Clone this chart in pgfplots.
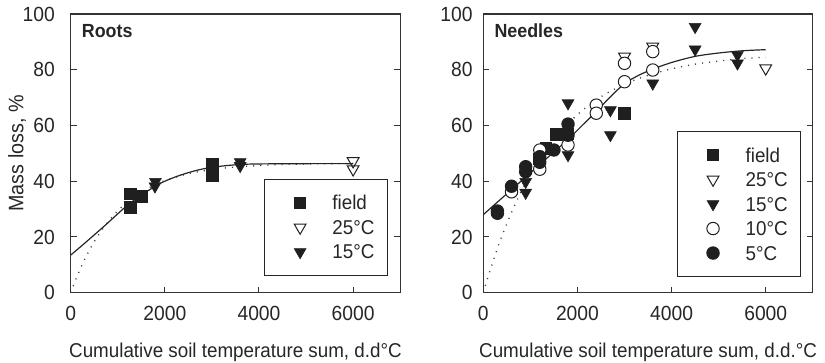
\documentclass[border=0pt]{standalone}
\usepackage{pgfplots}
\pgfplotsset{compat=1.18}
\usepackage{fontspec}
\setmainfont{Liberation Sans}[FakeStretch=0.94]
\pgfplotsset{
  panel/.style={
    scale only axis, width=329.5pt, height=278.7pt,
    xmin=0, xmax=7000, ymin=0, ymax=100,
    xtick={0,2000,4000,6000}, ytick={0,20,40,60,80,100},
    xtick pos=bottom, ytick pos=both, tick align=inside,
    major tick length=6pt,
    axis line style={line width=1.3pt, black!80},
    every tick/.style={line width=1pt, black!80},
    scaled x ticks=false,
    /pgf/number format/assume math mode=true,
    /pgf/number format/1000 sep={},
    tick label style={font=\fontsize{20.5}{24}\selectfont, text=black!85},
    xticklabel style={inner sep=0pt, anchor=north, yshift=-13.5pt},
    xlabel style={at={(axis description cs:0.5,0)}, anchor=north, inner sep=0pt, yshift=-50.6pt, font=\fontsize{20}{24}\selectfont, text=black!85},
    legend style={draw=black!85, line width=1pt, fill=white, anchor=north west,
      inner xsep=13pt, inner ysep=16.5pt, row sep=10.5pt, column sep=26.4pt,
      font=\fontsize{20}{24}\selectfont, text=black!85,
      nodes={inner sep=0pt, text height=14pt, text depth=0pt}},
    legend cell align=left,
  },
  mm/.style={only marks, mark options={line width=1pt},
    legend image code/.code={\path (-22pt,0pt); \draw[##1] plot coordinates {(0pt,0pt)};}},
  fieldm/.style={mm, mark=square*, mark size=5.8pt, color=black!88},
  tf/.style={mm, mark=triangle, mark size=6.8pt, color=black!88, mark options={rotate=180, fill=white, line width=1pt}},
  tb/.style={mm, mark=triangle*, mark size=6.8pt, color=black!88, mark options={rotate=180, line width=0.6pt}},
  co/.style={mm, mark=*, mark size=6.2pt, color=black!88, mark options={fill=white, line width=1pt}},
  cb/.style={mm, mark=*, mark size=6.2pt, color=black!88},
  fit/.style={forget plot, no marks, smooth, line width=1.2pt, black!85},
  dfit/.style={forget plot, no marks, smooth, line width=1.3pt, black!75, dash pattern=on 1.1pt off 6pt},
}
\begin{document}
\begin{tikzpicture}
\path[use as bounding box] (0,0) rectangle (825pt,363pt);
% ---------------- Roots ----------------
\begin{axis}[panel, at={(70.7pt,70.3pt)}, anchor=south west,
  yticklabel style={inner sep=0pt, anchor=east, xshift=-15.7pt},
  xlabel={Cumulative soil temperature sum, d.d\textdegree C},
  ylabel={Mass loss, \%},
  ylabel style={at={(axis description cs:-0.1440,0.5)}, anchor=base, inner sep=0pt, font=\fontsize{21}{24}\selectfont, text=black!85},
  legend style={at={(0.587,0.408)}},
]
\addplot[dfit] coordinates {(0,0) (100,4.4) (200,8.4) (300,12.1) (400,15.3) (500,18.3) (600,21.0) (800,25.6) (1000,29.4) (1250,33.2) (1500,36.1) (1750,38.4) (2000,40.2) (2500,42.7) (3000,44.2) (3500,45.1) (4000,45.6) (4500,46.0) (5000,46.2) (5500,46.3) (6000,46.4)};
\addplot[fit] coordinates {(0,13.5) (300,17.8) (700,23.7) (1000,28.3) (1200,31.3) (1500,35.0) (1900,39.2) (2300,42.0) (2750,44.2) (3200,45.4) (3600,46.0) (4000,46.2) (5000,46.3) (6000,46.3)};
\addplot[fieldm] coordinates {(1274,35.4) (1274,30.6) (1507,34.6) (3015,46.0) (3015,41.9)};
\addlegendentry{field}
\addplot[tf] coordinates {(3000,43.4) (6000,47.2) (6000,44.3)};
\addlegendentry{25\textdegree C}
\addplot[tb] coordinates {(1800,39.8) (1790,38.2) (3600,46.9) (3600,45.5)};
\addlegendentry{15\textdegree C}
\node[anchor=north west, inner sep=0pt, font=\bfseries\fontsize{19}{22}\selectfont, text=black!85] at (rel axis cs:0.0335,0.964) {Roots};
\end{axis}
% ---------------- Needles ----------------
\begin{axis}[panel, at={(483.3pt,70.3pt)}, anchor=south west,
  yticklabel style={inner sep=0pt, anchor=east, xshift=-10.6pt},
  xlabel={Cumulative soil temperature sum, d.d.\textdegree C},
  legend style={at={(0.588,0.580)}},
]
\addplot[dfit] coordinates {(0,0) (100,5.7) (200,10.9) (300,15.9) (400,20.5) (600,28.8) (800,36.1) (1000,42.4) (1200,48.0) (1500,55.0) (2000,63.9) (2500,70.3) (3000,74.8) (3500,78.0) (4000,80.3) (4500,82.0) (5000,83.1) (5500,84.0) (6000,84.5)};
\addplot[fit] coordinates {(0,28.0) (300,32.5) (600,37.0) (900,41.5) (1200,46.0) (1500,50.5) (1800,55.0) (2100,60.0) (2400,65.0) (2700,70.3) (3000,75.0) (3300,78.0) (3600,80.2) (4000,82.6) (4500,84.8) (5000,86.0) (5500,86.8) (6000,87.2)};
\addplot[fieldm] coordinates {(1200,48.0) (1330,51.8) (1550,56.8) (1800,57.0) (3000,64.4)};
\addlegendentry{field}
\addplot[tf] coordinates {(3000,84.7) (3600,88.3) (6000,80.5)};
\addlegendentry{25\textdegree C}
\addplot[tb] coordinates {(900,39.8) (900,35.9) (1800,68.0) (1800,49.4) (2700,65.5) (2700,56.6) (3600,75.1) (4500,95.4) (4500,87.3) (5400,85.3) (5400,82.3)};
\addlegendentry{15\textdegree C}
\addplot[co] coordinates {(600,36.2) (1200,51.2) (1200,44.3) (1800,53.0) (2400,67.3) (2400,64.4) (3000,82.3) (3000,75.7) (3600,86.5) (3600,79.9)};
\addlegendentry{10\textdegree C}
\addplot[cb] coordinates {(300,28.5) (300,29.3) (600,38.2) (900,45.2) (900,43.4) (1200,48.8) (1200,46.8) (1500,51.2) (1800,60.5) (1800,56.5)};
\addlegendentry{5\textdegree C}
\node[anchor=north west, inner sep=0pt, font=\bfseries\fontsize{19}{22}\selectfont, text=black!85] at (rel axis cs:0.0335,0.964) {Needles};
\end{axis}
\end{tikzpicture}
\end{document}
